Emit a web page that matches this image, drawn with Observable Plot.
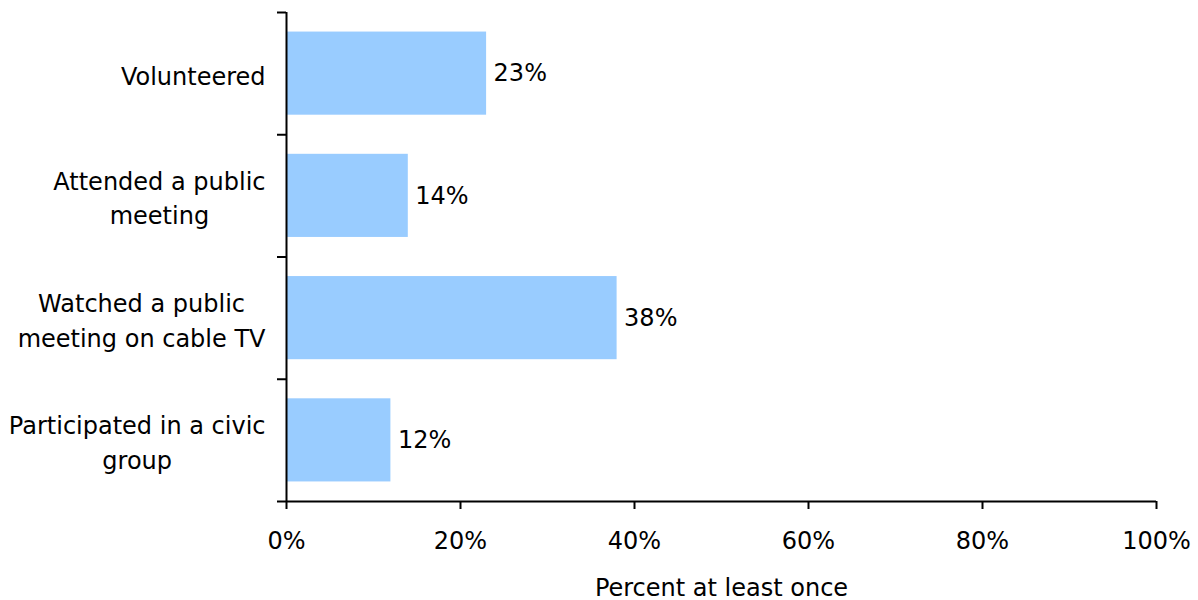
<!DOCTYPE html>
<html>
<head>
<meta charset="utf-8">
<script src="https://cdn.jsdelivr.net/npm/d3@7"></script>
<script src="https://cdn.jsdelivr.net/npm/@observablehq/plot@0.6"></script>
<style>
  html, body { margin: 0; padding: 0; background: #fff; }
  #chart svg { display: block; }
</style>
</head>
<body>
<div id="chart"></div>
<script>
const categories = [
  "Volunteered",
  "Attended a public\nmeeting",
  "Watched a public\nmeeting on cable TV",
  "Participated in a civic\ngroup"
];
const values = [23, 14, 38, 12];
const xTicks = [0, 20, 40, 60, 80, 100];
const xLabel = "Percent at least once";

const data = categories.map((c, i) => ({category: c, value: values[i], i}));
const barColor = "#99ccff";
const font = "DejaVu Sans";
const fs = 24;

// measure label block widths so multi-line labels are centred within a right-aligned block
const ctx = document.createElement("canvas").getContext("2d");
ctx.font = `${fs}px "${font}"`;
const blockWidth = c => d3.max(c.split("\n"), l => ctx.measureText(l).width);

const labelMarks = data.map(d => Plot.text([d], {
  x: 0, y: d.i + 0.5, text: "category", textAnchor: "middle",
  lineHeight: 1.45, fontSize: fs, fill: "#000",
  dx: -(21 + blockWidth(d.category) / 2)
}));

const chart = Plot.plot({
  width: 1198,
  height: 600,
  marginLeft: 286,
  marginRight: 42,
  marginTop: 12,
  marginBottom: 99,
  style: {fontFamily: font, fontSize: fs + "px", color: "#000", background: "#fff"},
  x: {domain: [0, 100]},
  y: {domain: [0, categories.length], reverse: true},
  marks: [
    Plot.rectX(data, {x1: 0, x2: "value", y1: d => d.i + 0.16, y2: d => d.i + 0.84, fill: barColor}),
    Plot.text(data, {x: "value", y: d => d.i + 0.5, text: d => d.value + "%", textAnchor: "start", dx: 7, fill: "#000", fontSize: fs}),
    Plot.axisY({ticks: d3.range(categories.length + 1), tickSize: 9, tickFormat: () => "", stroke: "#000", strokeWidth: 2}),
    ...labelMarks,
    Plot.ruleX([0], {y1: 0, y2: categories.length, stroke: "#000", strokeWidth: 2}),
    Plot.ruleY([categories.length], {x1: 0, x2: 100, stroke: "#000", strokeWidth: 2}),
    Plot.axisX({ticks: xTicks, tickSize: 8, tickPadding: 22, tickFormat: d => d + "%", stroke: "#000", strokeWidth: 2, fontSize: fs, fill: "#000", label: null}),
    Plot.text([xLabel], {frameAnchor: "bottom", dy: 94, text: d => d, fontSize: fs, fill: "#000"})
  ]
});
document.getElementById("chart").appendChild(chart);
</script>
</body>
</html>
